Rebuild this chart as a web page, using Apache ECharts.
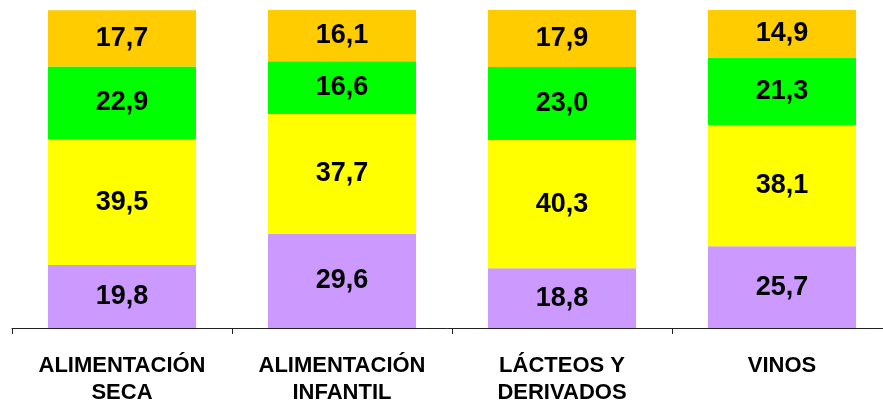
<!DOCTYPE html>
<html>
<head>
<meta charset="utf-8">
<script src="https://cdn.jsdelivr.net/npm/echarts@6/dist/echarts.min.js"></script>
<style>html,body{margin:0;padding:0;background:#fff}#c{width:883px;height:402px}</style>
</head>
<body>
<div id="c"></div>
<script>
const categories = ['ALIMENTACIÓN\nSECA', 'ALIMENTACIÓN\nINFANTIL', 'LÁCTEOS Y\nDERIVADOS', 'VINOS'];
const purpleValues = [19.8, 29.6, 18.8, 25.7];
const yellowValues = [39.5, 37.7, 40.3, 38.1];
const greenValues = [22.9, 16.6, 23.0, 21.3];
const orangeValues = [17.7, 16.1, 17.9, 14.9];
const seriesData = [
  {name: 's1', data: purpleValues, color: '#CC99FF'},
  {name: 's2', data: yellowValues, color: '#FFFF00'},
  {name: 's3', data: greenValues, color: '#00FF00'},
  {name: 's4', data: orangeValues, color: '#FFCC00'}
];
const chart = echarts.init(document.getElementById('c'), null, {renderer: 'canvas'});
chart.setOption({
  animation: false,
  grid: {left: 12, width: 880, top: 10, height: 318, outerBoundsMode: 'none', containLabel: false},
  xAxis: {
    type: 'category',
    data: categories,
    axisLine: {lineStyle: {color: '#222', width: 1}},
    axisTick: {show: true, length: 6, lineStyle: {color: '#222'}},
    axisLabel: {
      color: '#000', fontFamily: 'Liberation Sans, Arial, sans-serif',
      fontWeight: 'bold', fontSize: 22, lineHeight: 27, margin: 24, interval: 0
    }
  },
  yAxis: {type: 'value', min: 0, max: 100, show: false, splitLine: {show: false}},
  series: seriesData.map(s => ({
    type: 'bar', name: s.name, stack: 'total', data: s.data, barWidth: 148,
    itemStyle: {color: s.color},
    label: {
      show: true, position: 'inside', color: '#000',
      fontFamily: 'Liberation Sans, Arial, sans-serif', fontWeight: 'bold', fontSize: 27,
      formatter: p => p.value.toFixed(1).replace('.', ',')
    }
  }))
});
</script>
</body>
</html>
